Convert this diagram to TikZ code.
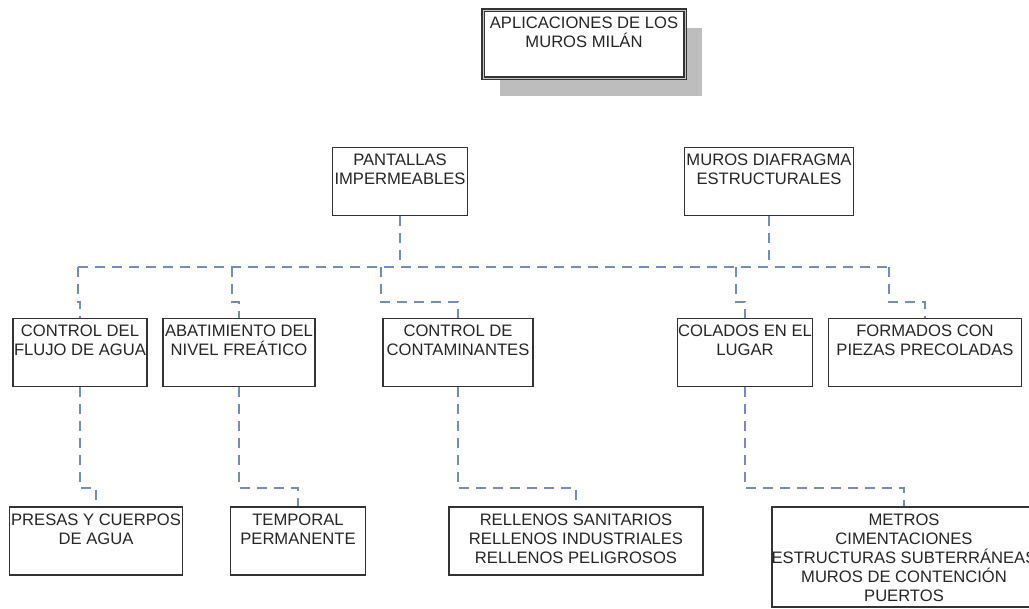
\documentclass[tikz,border=0pt]{standalone}
\usepackage{fontspec}
\setmainfont{Liberation Sans}
\usepackage{tikz}
\usetikzlibrary{positioning,shadows}

\definecolor{azul}{RGB}{112,140,196}
\tikzset{
	caja/.style={draw=black!80, line width=1.3pt, fill=white, inner sep=0pt, minimum height=68pt},
	titulo/.style={caja, double=gray!45, double distance=0.9pt, line width=1.1pt,
		drop shadow={shadow xshift=17pt, shadow yshift=-18pt, fill=black!26, opacity=1}},
	texto/.style={anchor=north, yshift=-7pt, inner sep=0pt, align=center,
		font=\fontsize{16.6}{19}\selectfont, text=black!85},
	enlace/.style={draw=azul, line width=1.3pt, dash pattern=on 10pt off 7pt}
}

\begin{document}
\begin{tikzpicture}[x=1pt,y=-1pt]
		\useasboundingbox[fill=white] (0,0) rectangle (1029,609);
		% cajas
		\node[titulo, minimum width=202pt, label={[texto]north:APLICACIONES DE LOS\\MUROS MILÁN}] (apl) at (584,44) {};
		\node[caja, minimum width=135pt, label={[texto]north:PANTALLAS\\IMPERMEABLES}] (pant) at (400,181.5) {};
		\node[caja, minimum width=169pt, label={[texto]north:MUROS DIAFRAGMA\\ESTRUCTURALES}] (muros) at (769,181.5) {};
		\node[caja, minimum width=134pt, label={[texto]north:CONTROL DEL\\FLUJO DE AGUA}] (flujo) at (80,352.5) {};
		\node[caja, minimum width=152pt, label={[texto]north:ABATIMIENTO DEL\\NIVEL FREÁTICO}] (abat) at (239,352.5) {};
		\node[caja, minimum width=150pt, label={[texto]north:CONTROL DE\\CONTAMINANTES}] (cont) at (458,352.5) {};
		\node[caja, minimum width=135pt, label={[texto]north:COLADOS EN EL\\LUGAR}] (colados) at (745,352.5) {};
		\node[caja, minimum width=193pt, label={[texto]north:FORMADOS CON\\PIEZAS PRECOLADAS}] (formados) at (925,352.5) {};
		\node[caja, minimum width=173pt, label={[texto]north:PRESAS Y CUERPOS\\DE AGUA}] (presas) at (96,541) {};
		\node[caja, minimum width=135pt, label={[texto]north:TEMPORAL\\PERMANENTE}] (temporal) at (298,541) {};
		\node[caja, minimum width=254pt, label={[texto]north:RELLENOS SANITARIOS\\RELLENOS INDUSTRIALES\\RELLENOS PELIGROSOS}] (rellenos) at (576,541) {};
		\node[caja, minimum width=264pt, minimum height=100pt, label={[texto]north:METROS\\CIMENTACIONES\\ESTRUCTURAS SUBTERRÁNEAS\\MUROS DE CONTENCIÓN\\PUERTOS}] (metros) at (904,557) {};
		% niveles de los quiebres
		\coordinate (b1) at (78,267);
		\coordinate (b2) at (232,267);
		\coordinate (b3) at (381,267);
		\coordinate (b4) at (736,267);
		\coordinate (b5) at (889,267);
		\coordinate (n2) at (0,302);
		\coordinate (n3) at (0,488);
		% enlaces
		\draw[enlace] (b1) -- (b5);
		\draw[enlace] (pant.south) -- (pant.south |- b1);
		\draw[enlace] (muros.south) -- (muros.south |- b1);
		\draw[enlace] (b1) -- (b1 |- n2) -| (flujo.north);
		\draw[enlace] (b2) -- (b2 |- n2) -| (abat.north);
		\draw[enlace] (b3) -- (b3 |- n2) -| (cont.north);
		\draw[enlace] (b4) -- (b4 |- n2) -| (colados.north);
		\draw[enlace] (b5) -- (b5 |- n2) -| (formados.north);
		\draw[enlace] (flujo.south) -- (flujo.south |- n3) -| (presas.north);
		\draw[enlace] (abat.south) -- (abat.south |- n3) -| (temporal.north);
		\draw[enlace] (cont.south) -- (cont.south |- n3) -| (rellenos.north);
		\draw[enlace] (colados.south) -- (colados.south |- n3) -| (metros.north);
\end{tikzpicture}
\end{document}
